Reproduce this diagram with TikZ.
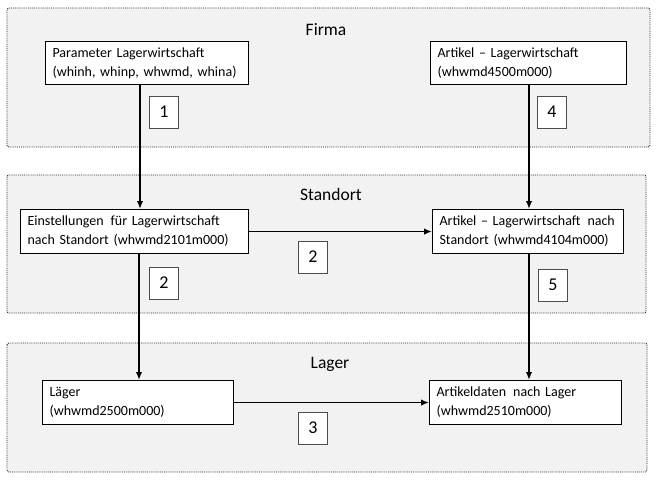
\documentclass[tikz,border=0pt]{standalone}
\usepackage{fontspec}
\setmainfont{Carlito}
\usetikzlibrary{arrows.meta}
\begin{document}
\begin{tikzpicture}[x=1pt,y=-1pt,
 region/.style={draw=black!85, densely dotted, line width=0.9pt, fill=black!5, rounded corners=2pt},
 title/.style={font=\fontsize{17.5}{20}\selectfont},
 box/.style={draw, line width=1.1pt, fill=white, anchor=north west, align=left, inner xsep=7pt, inner ysep=2pt, font=\fontsize{14}{19}\selectfont},
 num/.style={draw=black!70, line width=0.6pt, fill=white, minimum width=29pt, minimum height=32pt, inner sep=0pt, font=\fontsize{18}{20}\selectfont},
 arr/.style={line width=1.8pt, -{Latex[length=8pt,width=6.5pt]}}
]
\fill[white] (0,0) rectangle (656,484);
\useasboundingbox (0,0) rectangle (656,484);
% regions
\draw[region] (7,8) rectangle (650,147);
\draw[region] (7,175) rectangle (646,313);
\draw[region] (7,343) rectangle (647,472);
\node[title] (tf) at (326,30) {Firma};
\node[title] (ts) at (331,194) {Standort};
\node[title] (tl) at (330,364) {Lager};
% boxes
\node[box, text width=189pt, minimum height=43pt] (p) at (45,41) {Parameter Lagerwirtschaft\\(whinh, whinp, whwmd, whina)};
\node[box, text width=182pt, minimum height=43pt] (a) at (430,41) {Artikel -- Lagerwirtschaft\\(whwmd4500m000)};
\node[box, text width=214pt, minimum height=44pt] (e) at (20,209) {Einstellungen\, für Lagerwirtschaft\\nach Standort (whwmd2101m000)};
\node[box, text width=177pt, minimum height=44pt] (as) at (432,209) {Artikel -- Lagerwirtschaft\, nach\\Standort (whwmd4104m000)};
\node[box, text width=177pt, minimum height=44pt] (l) at (42,380) {Läger\\(whwmd2500m000)};
\node[box, text width=178pt, minimum height=44pt] (ad) at (429,380) {Artikeldaten\, nach Lager\\(whwmd2510m000)};
% arrows
\draw[arr] (p.south -| 140,0) -- (e.north -| 140,0);
\draw[arr] (a.south -| 529,0) -- (as.north -| 529,0);
\draw[arr] (e.south -| 139,0) -- (l.north -| 139,0);
\draw[arr] (as.south -| 529,0) -- (ad.north -| 529,0);
\draw[arr] (e.east) -- (as.west);
\draw[arr] (l.east) -- (ad.west);
% numbers
\node[num] (n1) at (164,112) {1};
\node[num] (n4) at (552,112) {4};
\node[num] (n2a) at (164,283) {2};
\node[num] (n5) at (553,285) {5};
\node[num] (n2b) at (313,257) {2};
\node[num] (n3) at (313,428) {3};
\end{tikzpicture}
\end{document}
